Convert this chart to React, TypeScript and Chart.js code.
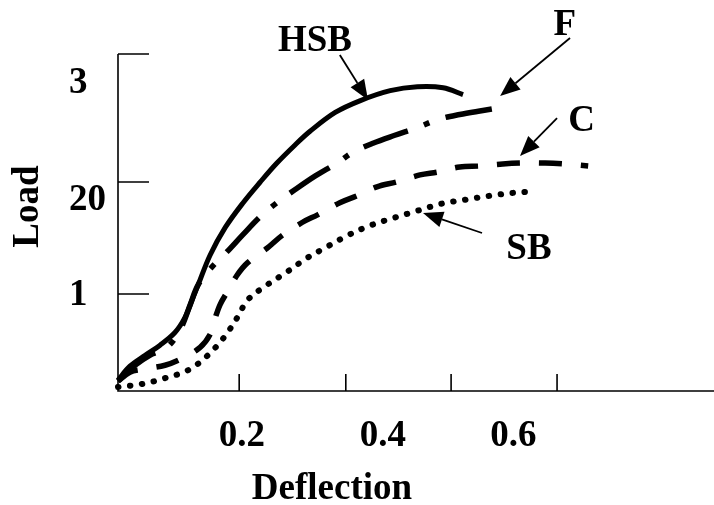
import { useEffect, useRef } from "react";
import { Chart, registerables } from "chart.js";

Chart.register(...registerables);

// Load–deflection curves for the four specimens
const hsbDeflection = [0, 0.018, 0.041, 0.063, 0.086, 0.101, 0.112, 0.121, 0.139, 0.162, 0.189, 0.215, 0.24, 0.267, 0.29, 0.328, 0.366, 0.411, 0.452, 0.491, 0.521];
const hsbLoad = [0.11, 0.25, 0.36, 0.46, 0.59, 0.74, 0.92, 1.07, 1.37, 1.65, 1.9, 2.11, 2.3, 2.48, 2.62, 2.81, 2.93, 3.03, 3.07, 3.06, 2.99];

const fDeflection = [0, 0.026, 0.048, 0.074, 0.094, 0.109, 0.121, 0.143, 0.164, 0.189, 0.215, 0.24, 0.267, 0.298, 0.331, 0.355, 0.385, 0.418, 0.453, 0.483, 0.516, 0.551, 0.587];
const fLoad = [0.1, 0.26, 0.36, 0.44, 0.62, 0.87, 1.07, 1.26, 1.4, 1.58, 1.76, 1.9, 2.03, 2.17, 2.3, 2.41, 2.5, 2.58, 2.66, 2.74, 2.79, 2.83, 2.87];

const cDeflection = [0, 0.018, 0.038, 0.071, 0.097, 0.124, 0.139, 0.146, 0.154, 0.165, 0.18, 0.195, 0.225, 0.248, 0.278, 0.302, 0.335, 0.361, 0.391, 0.421, 0.456, 0.483, 0.516, 0.547, 0.581, 0.612, 0.645, 0.675, 0.71];
const cLoad = [0.1, 0.19, 0.22, 0.26, 0.33, 0.44, 0.57, 0.72, 0.87, 1.0, 1.17, 1.29, 1.44, 1.57, 1.7, 1.78, 1.9, 1.97, 2.06, 2.11, 2.18, 2.21, 2.26, 2.27, 2.29, 2.3, 2.3, 2.29, 2.27];

const sbDeflection = [0, 0.036, 0.071, 0.106, 0.134, 0.16, 0.18, 0.196, 0.225, 0.255, 0.285, 0.317, 0.347, 0.381, 0.418, 0.453, 0.489, 0.525, 0.562, 0.598, 0.618];
const sbLoad = [0.04, 0.07, 0.13, 0.21, 0.35, 0.54, 0.74, 0.92, 1.07, 1.2, 1.34, 1.46, 1.57, 1.67, 1.75, 1.82, 1.89, 1.93, 1.97, 2.0, 2.01];

// Axis ticks and their labels
const xTickMarks = [0.183, 0.344, 0.503, 0.663];
const xLabelValues = [0.187, 0.4, 0.597];
const xLabelTexts = ["0.2", "0.4", "0.6"];

const yTickMarks = [0.979, 2.109, 3.4];
const yLabelValues = [0.994, 1.952, 3.133];
const yLabelTexts = ["1", "20", "3"];

const X_MAX = 0.9;
const Y_MAX = 3.4;

const FONT = "bold 37px 'Liberation Serif', 'Times New Roman', serif";

// Series call-outs: label anchor (centre, baseline) and arrow tail -> tip, in data units
const callouts = [
  { text: "HSB", at: [0.2975, 3.427], tail: [0.335, 3.39], tip: [0.3775, 2.936] },
  { text: "F", at: [0.6748, 3.592], tail: [0.6826, 3.561], tip: [0.577, 2.976] },
  { text: "C", at: [0.7, 2.619], tail: [0.663, 2.754], tip: [0.607, 2.371] },
  { text: "SB", at: [0.6206, 1.332], tail: [0.5497, 1.594], tip: [0.4606, 1.796] },
];

const toPoints = (xs: number[], ys: number[]) => xs.map((x, i) => ({ x, y: ys[i] }));

const figurePlugin = {
  id: "figureFrame",
  beforeDatasetsDraw(chart: any) {
    const { ctx, chartArea: a, scales } = chart;
    const sx = scales.x;
    const sy = scales.y;
    ctx.save();
    ctx.strokeStyle = "#000";
    ctx.lineWidth = 1.6;
    ctx.beginPath();
    ctx.moveTo(a.left, a.top);
    ctx.lineTo(a.left, a.bottom);
    ctx.lineTo(a.right, a.bottom);
    yTickMarks.forEach((v) => {
      const p = sy.getPixelForValue(v);
      ctx.moveTo(a.left, p);
      ctx.lineTo(a.left + 31, p);
    });
    xTickMarks.forEach((v) => {
      const p = sx.getPixelForValue(v);
      ctx.moveTo(p, a.bottom);
      ctx.lineTo(p, a.bottom - 17);
    });
    ctx.stroke();

    ctx.fillStyle = "#000";
    ctx.font = FONT;
    ctx.textBaseline = "alphabetic";
    ctx.textAlign = "center";
    xLabelValues.forEach((v, i) => {
      ctx.fillText(xLabelTexts[i], sx.getPixelForValue(v), a.bottom + 55);
    });
    ctx.textAlign = "left";
    yLabelValues.forEach((v, i) => {
      ctx.fillText(yLabelTexts[i], 69, sy.getPixelForValue(v) + 12.5);
    });

    // axis titles
    ctx.textAlign = "center";
    ctx.fillText("Deflection", 332, a.bottom + 108);
    ctx.save();
    ctx.translate(38, 206.5);
    ctx.rotate(-Math.PI / 2);
    ctx.fillText("Load", 0, 0);
    ctx.restore();
    ctx.restore();
  },
  afterDatasetsDraw(chart: any) {
    const { ctx, scales } = chart;
    const sx = scales.x;
    const sy = scales.y;
    ctx.save();
    ctx.fillStyle = "#000";
    ctx.strokeStyle = "#000";
    ctx.font = FONT;
    ctx.textAlign = "center";
    ctx.textBaseline = "alphabetic";
    callouts.forEach((c) => {
      ctx.fillText(c.text, sx.getPixelForValue(c.at[0]), sy.getPixelForValue(c.at[1]));
      const x0 = sx.getPixelForValue(c.tail[0]);
      const y0 = sy.getPixelForValue(c.tail[1]);
      const x1 = sx.getPixelForValue(c.tip[0]);
      const y1 = sy.getPixelForValue(c.tip[1]);
      const ang = Math.atan2(y1 - y0, x1 - x0);
      const headLen = 20;
      const headHalf = 8;
      const bx = x1 - headLen * Math.cos(ang);
      const by = y1 - headLen * Math.sin(ang);
      ctx.lineWidth = 1.8;
      ctx.beginPath();
      ctx.moveTo(x0, y0);
      ctx.lineTo(bx, by);
      ctx.stroke();
      ctx.beginPath();
      ctx.moveTo(x1, y1);
      ctx.lineTo(bx - headHalf * Math.sin(ang), by + headHalf * Math.cos(ang));
      ctx.lineTo(bx + headHalf * Math.sin(ang), by - headHalf * Math.cos(ang));
      ctx.closePath();
      ctx.fill();
    });
    ctx.restore();
  },
};

export default function App() {
  const canvasRef = useRef<HTMLCanvasElement | null>(null);

  useEffect(() => {
    const canvas = canvasRef.current;
    if (!canvas) return;
    const common = {
      borderColor: "#000",
      backgroundColor: "#000",
      fill: false,
      pointRadius: 0,
      tension: 0.35,
      clip: false as any,
    };
    const chart = new Chart(canvas, {
      type: "line",
      data: {
        datasets: [
          { ...common, label: "SB", data: toPoints(sbDeflection, sbLoad), borderWidth: 6, borderDash: [0.5, 11.5], borderCapStyle: "round" },
          { ...common, label: "C", data: toPoints(cDeflection, cLoad), borderWidth: 5.5, borderDash: [23, 19] },
          { ...common, label: "F", data: toPoints(fDeflection, fLoad), borderWidth: 5.5, borderDash: [47, 17, 6, 17] },
          { ...common, label: "HSB", data: toPoints(hsbDeflection, hsbLoad), borderWidth: 5 },
        ],
      },
      options: {
        responsive: false,
        animation: false,
        layout: { padding: { left: 118, top: 54, right: 0, bottom: 114 } },
        scales: {
          x: { type: "linear", display: false, min: 0, max: X_MAX },
          y: { type: "linear", display: false, min: 0, max: Y_MAX },
        },
        plugins: { legend: { display: false }, tooltip: { enabled: false } },
      },
      plugins: [figurePlugin],
    });
    return () => chart.destroy();
  }, []);

  return (
    <div style={{ position: "fixed", left: 0, top: 0, width: 714, height: 505, background: "#fff" }}>
      <canvas ref={canvasRef} width={714} height={505} style={{ display: "block" }} />
    </div>
  );
}
